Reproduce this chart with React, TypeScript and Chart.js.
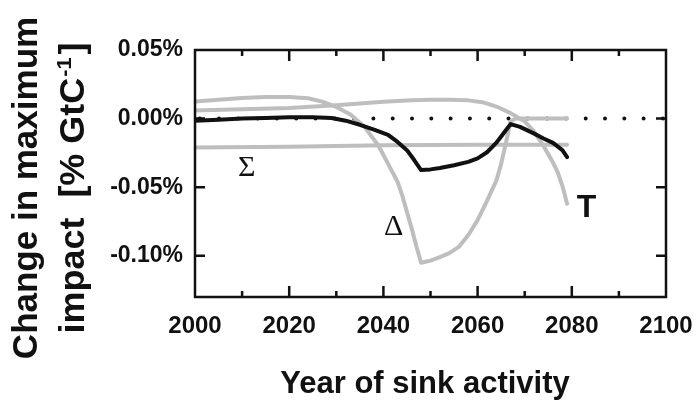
import { useEffect, useRef } from 'react';
import { Chart, registerables } from 'chart.js';

Chart.register(...registerables);

// ---- axis ticks ----
const xTickYears = [2000, 2020, 2040, 2060, 2080, 2100];
const xMinorYears = [2010, 2030, 2050, 2070, 2090];
const yTickValues = [0.05, 0, -0.05, -0.1];

// ---- series (values in % GtC^-1) ----
const sigmaYears = [2000, 2020, 2040, 2060, 2079];
const sigmaValues = [-0.021, -0.0205, -0.0195, -0.019, -0.019];

const deltaYears = [
  2000, 2005, 2010, 2015, 2020, 2024, 2027, 2030, 2033, 2036, 2039, 2041, 2043, 2044, 2046, 2047, 2048,
  2050, 2052, 2054, 2056, 2058, 2060, 2062, 2064, 2065, 2066, 2067, 2068, 2079,
];
const deltaValues = [
  0.0124, 0.0138, 0.015, 0.0158, 0.0158, 0.0148, 0.0124, 0.0085, 0.003, -0.006, -0.02, -0.033, -0.046,
  -0.056, -0.08, -0.093, -0.105, -0.1035, -0.101, -0.098, -0.0935, -0.085, -0.074, -0.06, -0.045, -0.033,
  -0.018, -0.002, 0.0, 0.0,
];

const tGrayYears = [
  2000, 2010, 2020, 2030, 2040, 2046, 2050, 2054, 2058, 2061, 2064, 2067, 2070, 2072, 2074, 2075, 2076,
  2077, 2078, 2079,
];
const tGrayValues = [
  0.006, 0.0068, 0.0078, 0.0098, 0.0122, 0.0133, 0.0137, 0.0137, 0.0133, 0.012, 0.0088, 0.004, -0.002,
  -0.0095, -0.02, -0.026, -0.032, -0.039, -0.049, -0.062,
];

const totalYears = [
  2000, 2005, 2010, 2015, 2020, 2025, 2029, 2032, 2035, 2038, 2041, 2043, 2045, 2046.5, 2048, 2050, 2052,
  2055, 2058, 2060, 2062, 2064, 2065, 2066, 2067, 2069, 2071.7, 2074, 2076, 2078, 2079,
];
const totalValues = [
  -0.0015, -0.0008, 0.0, 0.0005, 0.001, 0.001, 0.0005, -0.0015, -0.0045, -0.008, -0.0118, -0.017, -0.023,
  -0.03, -0.0375, -0.037, -0.036, -0.034, -0.0315, -0.029, -0.0245, -0.0175, -0.013, -0.0085, -0.004,
  -0.006, -0.0104, -0.0145, -0.0177, -0.023, -0.028,
];

const zeroLineYears = [2001, 2100];
const zeroLineValues = [0, 0];

// ---- curve labels (data coordinates, baseline) ----
const curveLabelTexts = ['Σ', 'Δ', 'T'];
const curveLabelYears = [2011, 2042.2, 2083.1];
const curveLabelValues = [-0.0421, -0.0848, -0.0716];

const SANS = '"Liberation Sans", Arial, Helvetica, sans-serif';
const SERIF = '"Liberation Serif", "Times New Roman", serif';
const GRAY = '#bebebe';
const INK = '#111111';

const toPoints = (xs: number[], ys: number[]) => xs.map((x, i) => ({ x, y: ys[i] }));

const framePlugin = {
  id: 'frame',
  afterDraw(chart: any) {
    const { ctx, chartArea: a, scales } = chart;
    const xs = scales.x;
    const ys = scales.y;
    ctx.save();
    ctx.strokeStyle = INK;
    ctx.lineWidth = 2.5;
    ctx.lineCap = 'butt';
    ctx.strokeRect(a.left, a.top, a.right - a.left, a.bottom - a.top);
    ctx.beginPath();
    xTickYears.forEach((yr) => {
      if (yr === xs.min || yr === xs.max) return;
      const px = xs.getPixelForValue(yr);
      ctx.moveTo(px, a.bottom);
      ctx.lineTo(px, a.bottom - 11);
      ctx.moveTo(px, a.top);
      ctx.lineTo(px, a.top + 11);
    });
    xMinorYears.forEach((yr) => {
      const px = xs.getPixelForValue(yr);
      ctx.moveTo(px, a.bottom);
      ctx.lineTo(px, a.bottom - 6);
      ctx.moveTo(px, a.top);
      ctx.lineTo(px, a.top + 6);
    });
    yTickValues.forEach((v) => {
      if (v === ys.max || v === ys.min) return;
      const py = ys.getPixelForValue(v);
      ctx.moveTo(a.left, py);
      ctx.lineTo(a.left + 10, py);
      ctx.moveTo(a.right, py);
      ctx.lineTo(a.right - 10, py);
    });
    ctx.stroke();

    // curve labels
    ctx.fillStyle = INK;
    ctx.textAlign = 'center';
    ctx.textBaseline = 'alphabetic';
    curveLabelTexts.forEach((t, i) => {
      ctx.font = t === 'T' ? `bold 32px ${SANS}` : `30px ${SERIF}`;
      ctx.fillText(t, xs.getPixelForValue(curveLabelYears[i]), ys.getPixelForValue(curveLabelValues[i]));
    });

    // x title
    ctx.font = `bold 31px ${SANS}`;
    ctx.fillText('Year of sink activity', 425, 393);

    // y title (two lines, rotated)
    const cy = 188;
    ctx.save();
    ctx.translate(37, cy);
    ctx.rotate(-Math.PI / 2);
    ctx.font = `bold 35px ${SANS}`;
    ctx.textAlign = 'center';
    ctx.fillText('Change in maximum', 0, 0);
    ctx.restore();

    ctx.save();
    ctx.translate(84, cy);
    ctx.rotate(-Math.PI / 2);
    ctx.textAlign = 'left';
    const p1 = 'impact  [% GtC';
    const sup = '-1';
    const p3 = ']';
    ctx.font = `bold 35px ${SANS}`;
    const w1 = ctx.measureText(p1).width;
    const w3 = ctx.measureText(p3).width;
    ctx.font = `bold 21px ${SANS}`;
    const w2 = ctx.measureText(sup).width;
    const natural = w1 + w2 + w3 + 4;
    const target = 291;
    ctx.scale(target / natural, 1);
    let x0 = -natural / 2;
    ctx.font = `bold 35px ${SANS}`;
    ctx.fillText(p1, x0, 0);
    x0 += w1 + 1;
    ctx.font = `bold 21px ${SANS}`;
    ctx.fillText(sup, x0, -13);
    x0 += w2 + 3;
    ctx.font = `bold 35px ${SANS}`;
    ctx.fillText(p3, x0, 0);
    ctx.restore();

    ctx.restore();
  },
};

export default function App() {
  const ref = useRef<HTMLCanvasElement | null>(null);

  useEffect(() => {
    if (!ref.current) return;
    const lineBase = {
      pointRadius: 0,
      tension: 0,
      borderCapStyle: 'round' as const,
      borderJoinStyle: 'round' as const,
      fill: false,
    };
    const chart = new Chart(ref.current, {
      type: 'line',
      data: {
        datasets: [
          { ...lineBase, label: 'T', data: toPoints(totalYears, totalValues), borderColor: INK, borderWidth: 4 },
          { ...lineBase, label: 'T gray', data: toPoints(tGrayYears, tGrayValues), borderColor: GRAY, borderWidth: 4 },
          { ...lineBase, label: 'Δ', data: toPoints(deltaYears, deltaValues), borderColor: GRAY, borderWidth: 4 },
          { ...lineBase, label: 'Σ', data: toPoints(sigmaYears, sigmaValues), borderColor: GRAY, borderWidth: 4 },
          {
            ...lineBase,
            label: 'zero',
            data: toPoints(zeroLineYears, zeroLineValues),
            borderColor: INK,
            borderWidth: 4,
            borderDash: [0, 19.3],
          },
        ],
      },
      options: {
        animation: false,
        responsive: true,
        maintainAspectRatio: false,
        events: [],
        layout: { padding: { left: 0, top: 50, right: 31, bottom: 0 } },
        plugins: { legend: { display: false }, tooltip: { enabled: false }, title: { display: false } },
        scales: {
          x: {
            type: 'linear',
            min: 2000,
            max: 2100,
            grid: { display: false, drawTicks: false },
            border: { display: false },
            afterBuildTicks: (s: any) => {
              s.ticks = xTickYears.map((v) => ({ value: v }));
            },
            afterFit: (s: any) => {
              s.height = 104;
              s.paddingLeft = 0;
              s.paddingRight = 0;
            },
            ticks: {
              autoSkip: false,
              maxRotation: 0,
              padding: 15,
              color: INK,
              font: { family: SANS, weight: 'bold', size: 24 },
              callback: (v: any) => String(v),
            },
          },
          y: {
            type: 'linear',
            min: -0.13,
            max: 0.05,
            grid: { display: false, drawTicks: false },
            border: { display: false },
            afterBuildTicks: (s: any) => {
              s.ticks = yTickValues.map((v) => ({ value: v }));
            },
            afterFit: (s: any) => {
              s.width = 195;
              s.paddingTop = 0;
              s.paddingBottom = 0;
            },
            ticks: {
              padding: 12,
              color: INK,
              font: { family: SANS, weight: 'bold', size: 23 },
              callback: (v: any) => `${Number(v).toFixed(2)}%`,
            },
          },
        },
      },
      plugins: [framePlugin],
    });
    return () => chart.destroy();
  }, []);

  return (
    <div style={{ position: 'fixed', left: 0, top: 0, width: 697, height: 401, background: '#ffffff' }}>
      <canvas ref={ref} />
    </div>
  );
}
